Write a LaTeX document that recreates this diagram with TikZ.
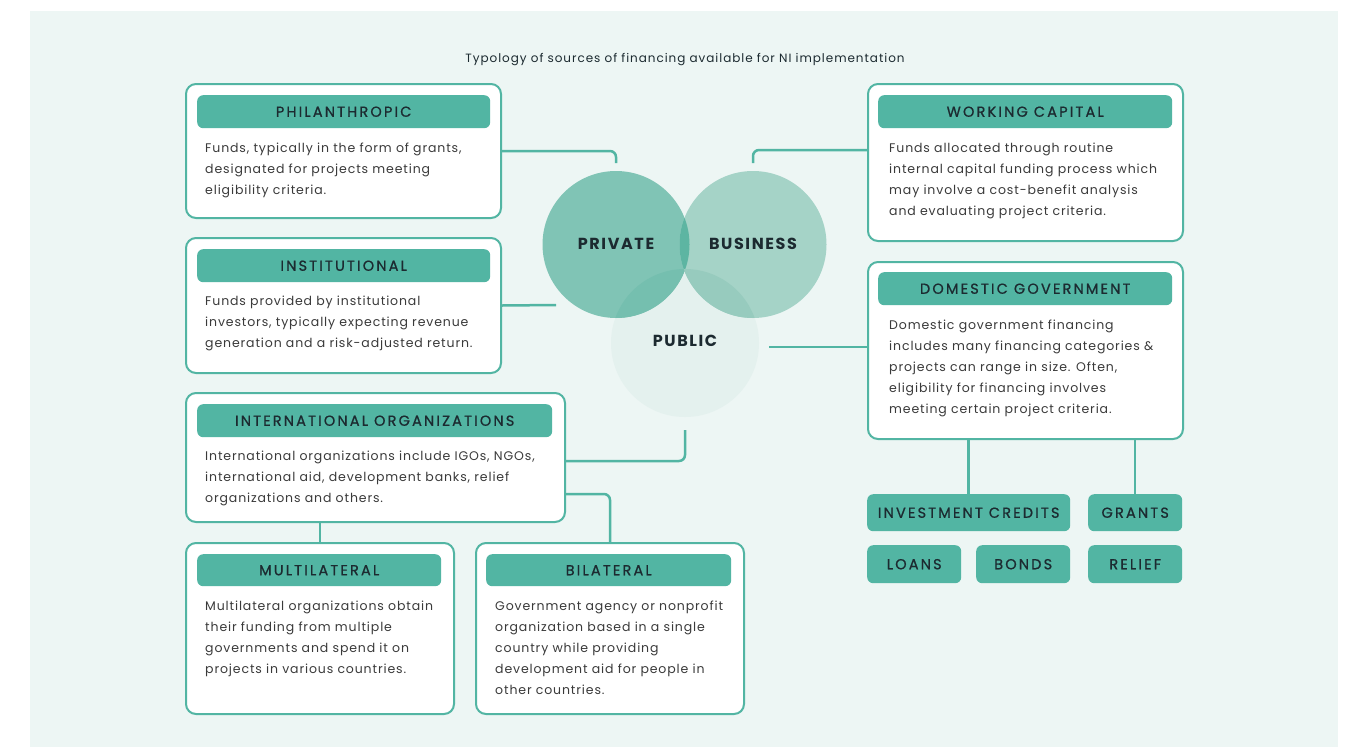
\documentclass[tikz,border=0pt]{standalone}
\usepackage{fontspec}
\setmainfont{Poppins}
\newfontfamily\bodyf{Poppins}[LetterSpace=7]
\newfontfamily\titf{Poppins}[LetterSpace=8]
\newfontfamily\hdf{Poppins}[LetterSpace=15,FakeBold=0.8]
\newfontfamily\cirf{Poppins}[LetterSpace=10]
\definecolor{bgc}{HTML}{EDF6F4}
\definecolor{tealc}{HTML}{52B5A3}
\definecolor{darkc}{HTML}{1C2A30}
\definecolor{bodyc}{HTML}{3A3A3A}
\definecolor{privc}{HTML}{80C4B5}
\definecolor{busc}{HTML}{A5D3C7}
\definecolor{pubc}{HTML}{E4F1EE}
\definecolor{pbc}{HTML}{5DB5A2}
\definecolor{ppc}{HTML}{75BFAF}
\definecolor{bpc}{HTML}{97CBBE}
\tikzset{
  card/.style={draw=tealc, line width=2pt, rounded corners=10pt, fill=white, anchor=north west, inner sep=0pt},
  hdr/.style={fill=tealc, rounded corners=6pt, anchor=north west, inner sep=0pt, text=darkc, font={\fontsize{14.5}{16}\selectfont\hdf}},
  body/.style={anchor=north west, align=left, inner sep=0pt, text=bodyc, font={\fontsize{12.5}{21}\selectfont\bodyf}},
  link/.style={draw=tealc, line width=2.5pt, rounded corners=6pt},
  tagbox/.style={fill=tealc, rounded corners=6pt, anchor=north west, inner sep=0pt, text=darkc, font={\fontsize{14.5}{16}\selectfont\hdf}},
  clabel/.style={text=darkc, font={\fontsize{16}{18}\selectfont\cirf\bfseries}},
}
\begin{document}
\begin{tikzpicture}[x=1pt,y=-1pt]
\useasboundingbox (0,0) rectangle (1351,747);
\fill[bgc] (30,11) rectangle (1338,747);
\node[text=darkc, font={\fontsize{12}{14}\selectfont\titf}] (title) at (685,60) {Typology of sources of financing available for NI implementation};

% circles
\fill[pubc] (685,343) circle[radius=74];
\fill[privc] (616,244.5) circle[radius=73.5];
\fill[busc] (753,244.5) circle[radius=73.5];
\begin{scope}
\clip (616,244.5) circle[radius=73.5];
\fill[ppc] (685,343) circle[radius=74];
\fill[pbc] (753,244.5) circle[radius=73.5];
\end{scope}
\begin{scope}
\clip (753,244.5) circle[radius=73.5];
\fill[bpc] (685,343) circle[radius=74];
\end{scope}
\node[clabel] (priv) at (616,244) {PRIVATE};
\node[clabel] (bus) at (753,244) {BUSINESS};
\node[clabel] (pub) at (685,341) {PUBLIC};

% connector end points
\coordinate (c1) at (616,163);
\coordinate (c2) at (753,163);
\coordinate (c3) at (556,305);
\coordinate (c4) at (769,347);
\coordinate (c5) at (685,430);
\coordinate (y461) at (0,461);
\coordinate (y494) at (0,494);
\coordinate (y150) at (0,150);

% cards
\node[card, minimum width=315, minimum height=134] (phil) at (185,83) {};
\node[card, minimum width=315, minimum height=135] (inst) at (185,237) {};
\node[card, minimum width=379, minimum height=129] (intl) at (185,392) {};
\node[card, minimum width=268, minimum height=171] (multi) at (185,542) {};
\node[card, minimum width=268, minimum height=171] (bil) at (475,542) {};
\node[card, minimum width=315, minimum height=157] (work) at (867,83) {};
\node[card, minimum width=315, minimum height=177] (dom) at (867,261) {};

% tags
\node[tagbox, minimum width=203, minimum height=37] (inv) at (867,494) {INVESTMENT CREDITS};
\node[tagbox, minimum width=94, minimum height=37] (grants) at (1088,494) {GRANTS};
\node[tagbox, minimum width=94, minimum height=38] (loans) at (867,545) {LOANS};
\node[tagbox, minimum width=94, minimum height=38] (bonds) at (976,545) {BONDS};
\node[tagbox, minimum width=94, minimum height=38] (relief) at (1088,545) {RELIEF};

% connectors
\draw[link] (phil.east) -| (c1);
\draw[link] (work.west |- y150) -| (c2);
\draw[link] (inst.east) -- (c3);
\draw[link] (c4) -- (c4 -| dom.west);
\draw[link] (intl.east |- y461) -| (c5);
\draw[link] (intl.east |- y494) -| (bil.north);
\draw[link] (multi.north) -- (multi.north |- intl.south);
\draw[link] (inv.north) -- (inv.north |- dom.south);
\draw[link] (grants.north) -- (grants.north |- dom.south);

% headers
\node[hdr, minimum width=293, minimum height=33] (philh) at (197,95) {PHILANTHROPIC};
\node[hdr, minimum width=293, minimum height=33] (insth) at (197,249) {INSTITUTIONAL};
\node[hdr, minimum width=355, minimum height=33] (intlh) at (197,404) {INTERNATIONAL ORGANIZATIONS};
\node[hdr, minimum width=244, minimum height=32] (multih) at (197,554) {MULTILATERAL};
\node[hdr, minimum width=245, minimum height=32] (bilh) at (486,554) {BILATERAL};
\node[hdr, minimum width=294, minimum height=33] (workh) at (878,95) {WORKING CAPITAL};
\node[hdr, minimum width=294, minimum height=33] (domh) at (878,272) {DOMESTIC GOVERNMENT};

% body texts
\node[body] (philb) at (205,143) {Funds, typically in the form of grants,\\designated for projects meeting\\eligibility criteria.};
\node[body] (instb) at (205,296) {Funds provided by institutional\\investors, typically expecting revenue\\generation and a risk-adjusted return.};
\node[body] (intlb) at (205,451) {International organizations include IGOs, NGOs,\\international aid, development banks, relief\\organizations and others.};
\node[body] (multib) at (205,601) {Multilateral organizations obtain\\their funding from multiple\\governments and spend it on\\projects in various countries.};
\node[body] (bilb) at (495,601) {Government agency or nonprofit\\organization based in a single\\country while providing\\development aid for people in\\other countries.};
\node[body] (workb) at (889,143) {Funds allocated through routine\\internal capital funding process which\\may involve a cost-benefit analysis\\and evaluating project criteria.};
\node[body] (domb) at (889,320) {Domestic government financing\\includes many financing categories \&\\projects can range in size. Often,\\eligibility for financing involves\\meeting certain project criteria.};
\end{tikzpicture}
\end{document}
